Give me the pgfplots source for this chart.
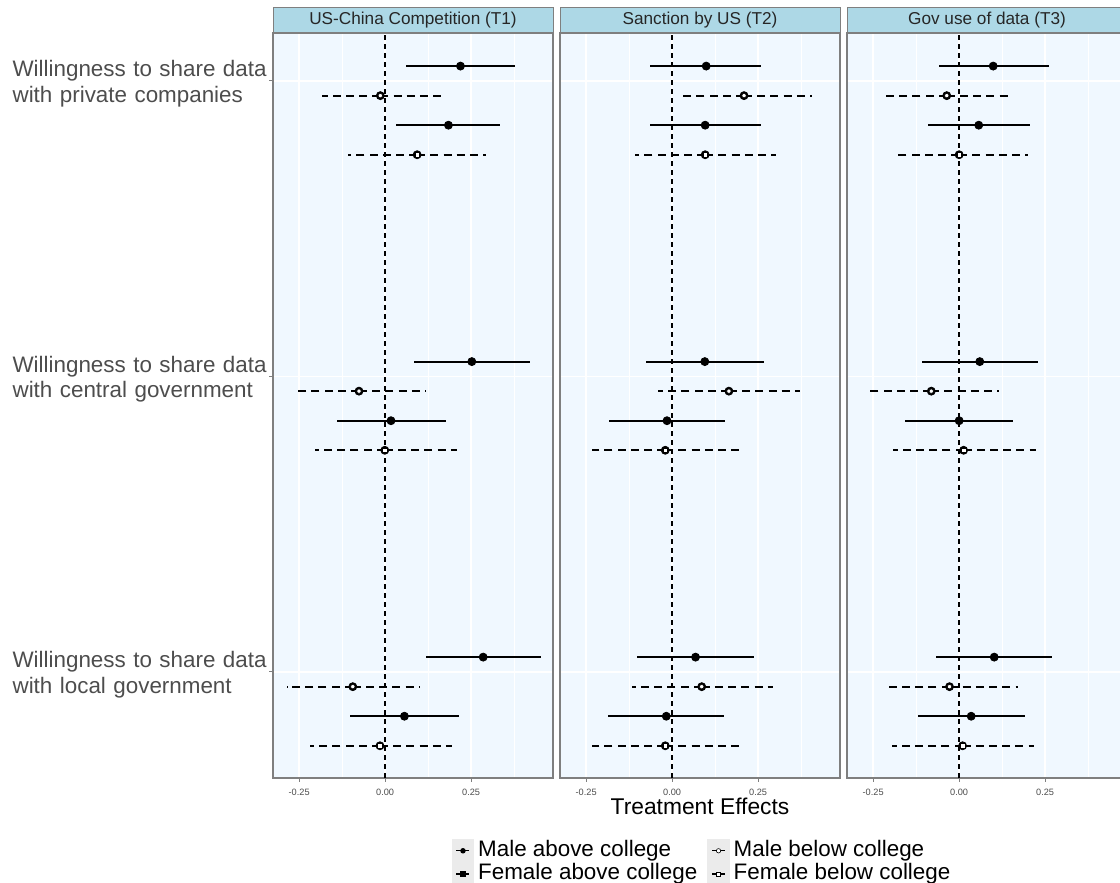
\documentclass[border=0pt]{standalone}
\usepackage{fontspec}
\setmainfont{Liberation Sans}
\usepackage{pgfplots}
\usepackage{pgfplotstable}
\pgfplotsset{compat=1.18}
\definecolor{panelbg}{HTML}{F0F8FF}
\definecolor{stripbg}{HTML}{ADD8E6}
\definecolor{bordergray}{HTML}{7F7F7F}
\definecolor{tickgray}{HTML}{4D4D4D}
\definecolor{keygray}{HTML}{EBEBEB}

% c: 3 = private companies, 2 = central government, 1 = local government
% ma = male above college, mb = male below, fa = female above, fb = female below
% X = estimate, L = lower bound, H = upper bound
\pgfplotstableread{
c maX maL maH mbX mbL mbH faX faL faH fbX fbL fbH
3 0.219 0.061 0.378 -0.014 -0.184 0.173 0.184 0.032 0.335 0.093 -0.107 0.294
2 0.252 0.085 0.420 -0.076 -0.265 0.120 0.017 -0.141 0.176 -0.001 -0.204 0.210
1 0.285 0.119 0.453 -0.094 -0.286 0.099 0.056 -0.103 0.215 -0.015 -0.217 0.195
}\Tone
\pgfplotstableread{
c maX maL maH mbX mbL mbH faX faL faH fbX fbL fbH
3 0.099 -0.064 0.258 0.209 0.020 0.408 0.096 -0.064 0.257 0.096 -0.108 0.301
2 0.095 -0.076 0.267 0.165 -0.040 0.371 -0.015 -0.184 0.154 -0.020 -0.233 0.196
1 0.068 -0.103 0.239 0.086 -0.118 0.293 -0.017 -0.186 0.152 -0.020 -0.233 0.196
}\Ttwo
\pgfplotstableread{
c maX maL maH mbX mbL mbH faX faL faH fbX fbL fbH
3 0.099 -0.060 0.261 -0.036 -0.220 0.152 0.057 -0.091 0.205 0.000 -0.185 0.200
2 0.060 -0.108 0.229 -0.081 -0.269 0.116 0.000 -0.156 0.156 0.013 -0.192 0.223
1 0.102 -0.067 0.271 -0.028 -0.216 0.170 0.035 -0.121 0.190 0.010 -0.196 0.218
}\Tthree

\tikzset{
  strip/.style={anchor=south, font=\fontsize{8.6}{10}\selectfont, text=black!85,
      fill=stripbg, draw=bordergray, line width=0.5pt,
      minimum width=140pt, minimum height=12.5pt, inner sep=0pt},
}
\pgfplotsset{
  panel/.style={
    scale only axis, width=140pt, height=372.5pt,
    xmin=-0.326, xmax=0.488, ymin=0.641, ymax=3.162,
    xtick={-0.25,0,0.25}, xticklabels={{-0.25},{0.00},{0.25}},
    minor xtick={-0.125,0.125,0.375},
    ytick={1,2,3},
    xmajorgrids, xminorgrids, ymajorgrids,
    major grid style={white, line width=0.7pt},
    minor grid style={white, line width=0.35pt},
    axis background/.style={fill=panelbg},
    axis line style={bordergray, line width=0.6pt},
    tick align=outside, xtick pos=bottom, ytick pos=left,
    major tick length=2pt, minor tick length=0pt,
    tick style={bordergray, line width=0.5pt},
    xticklabel style={font=\fontsize{4.6}{5}\selectfont, text=tickgray},
  },
  errsolid/.style={black, line width=0.95pt, solid},
  errdash/.style={black, line width=0.95pt, dash pattern=on 4pt off 2.6pt},
  mkMA/.style={mark=*, mark size=0.95pt, black},
  mkFA/.style={mark=square*, mark size=1.05pt, black},
  mkMB/.style={mark=*, mark size=1.1pt, mark options={draw=black, fill=white, line width=0.3pt}},
  mkFB/.style={mark=square*, mark size=1.15pt, mark options={draw=black, fill=white, line width=0.3pt}},
}

% #1 table, #2 series prefix, #3 dodge offset, #4 error style, #5 mark style
\newcommand{\drawseries}[5]{%
  \addplot[forget plot, only marks, mark=none,
    error bars/.cd, x dir=both, x explicit, error mark=none, error bar style={#4}]
    table[x=#2X, y expr=\thisrow{c}+(#3),
      x error plus expr=\thisrow{#2H}-\thisrow{#2X},
      x error minus expr=\thisrow{#2X}-\thisrow{#2L}] {#1};
  \addplot[forget plot, only marks, #5] table[x=#2X, y expr=\thisrow{c}+(#3)] {#1};
}
\newcommand{\zeroline}{%
  \addplot[forget plot, black, line width=0.8pt, dash pattern=on 2.5pt off 2pt]
    coordinates {(0,0.641) (0,3.162)};
}
\newcommand{\allseries}[1]{%
  \zeroline
  \drawseries{#1}{ma}{0.05}{errsolid}{mkMA}
  \drawseries{#1}{mb}{-0.05}{errdash}{mkMB}
  \drawseries{#1}{fa}{-0.15}{errsolid}{mkFA}
  \drawseries{#1}{fb}{-0.25}{errdash}{mkFB}
}

\begin{document}
\begin{tikzpicture}
\begin{axis}[panel, name=p1, at={(136.5pt,52.5pt)}, anchor=south west,
  yticklabels={{Willingness to share data\\with local government},
               {Willingness to share data\\with central government},
               {Willingness to share data\\with private companies}},
  yticklabel style={anchor=east, align=left, text width=129pt, inner sep=0pt,
    xshift=1pt, yshift=-1.5pt, font=\fontsize{11.2}{12.7}\selectfont, text=tickgray},
]
\allseries{\Tone}
\end{axis}

\begin{axis}[panel, name=p2, at={(280pt,52.5pt)}, anchor=south west,
  yticklabels={}, y tick style={draw=none},
  xlabel={Treatment Effects},
  xlabel style={at={(axis description cs:0.5,-0.0376)}, anchor=center,
    font=\fontsize{11.4}{12}\selectfont, text=black},
  legend style={at={(0.511,-0.1134)}, anchor=center, draw=none, fill=none,
    font=\fontsize{11.2}{11}\selectfont, row sep=0pt,
    nodes={inner ysep=0pt, text height=8.3pt, text depth=2.7pt},
    /tikz/every even column/.append style={column sep=3pt},
    cells={anchor=west}},
  legend columns=2, transpose legend,
  legend image code/.code={
    \fill[keygray] (0pt,-5.5pt) rectangle (10.5pt,5.5pt);
    \draw[mark repeat=2, mark phase=2, #1] plot coordinates {(2pt,0pt) (5.25pt,0pt) (8.5pt,0pt)};
  },
]
\addlegendimage{black, line width=0.7pt, mark=*, mark size=1pt}
\addlegendentry{Male above college}
\addlegendimage{black, line width=0.7pt, mark=square*, mark size=1.1pt}
\addlegendentry{Female above college}
\addlegendimage{black, line width=0.7pt, mark=*, mark size=1.1pt, mark options={fill=white, line width=0.3pt}}
\addlegendentry{Male below college}
\addlegendimage{black, line width=0.7pt, mark=square*, mark size=1.1pt, mark options={fill=white, line width=0.3pt}}
\addlegendentry{Female below college}
\allseries{\Ttwo}
\end{axis}

\begin{axis}[panel, name=p3, at={(423.5pt,52.5pt)}, anchor=south west,
  yticklabels={}, y tick style={draw=none},
]
\allseries{\Tthree}
\end{axis}

\node[strip] at (p1.north) {US-China Competition (T1)};
\node[strip] at (p2.north) {Sanction by US (T2)};
\node[strip] at (p3.north) {Gov use of data (T3)};

\pgfresetboundingbox
\path[use as bounding box] (0pt,0pt) rectangle (560pt,441.5pt);
\end{tikzpicture}
\end{document}
